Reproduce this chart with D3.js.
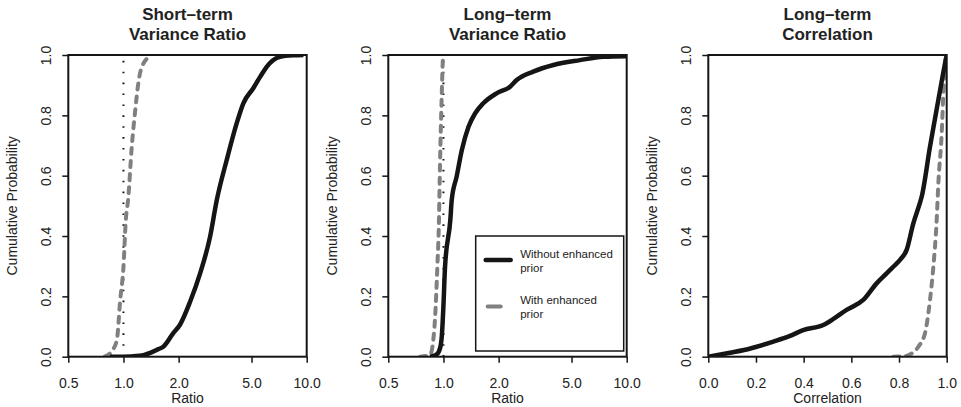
<!DOCTYPE html>
<html>
<head>
<meta charset="utf-8">
<script src="https://cdn.jsdelivr.net/npm/d3@7"></script>
<style>
  body { margin: 0; background: #fff; }
  svg text { font-family: "Liberation Sans", Arial, sans-serif; fill: #222; }
</style>
</head>
<body>
<script>
// ---- data ----
var panelTitles = [["Short\u2013term", "Variance Ratio"], ["Long\u2013term", "Variance Ratio"], ["Long\u2013term", "Correlation"]];
var xTitles = ["Ratio", "Ratio", "Correlation"];
var ratioTicks = [0.5, 1.0, 2.0, 5.0, 10.0];
var corrTicks = [0.0, 0.2, 0.4, 0.6, 0.8, 1.0];
var probTicks = [0.0, 0.2, 0.4, 0.6, 0.8, 1.0];
var legendLabels = [["Without enhanced", "prior"], ["With enhanced", "prior"]];

var shortWithoutX = [0.845, 1.1, 1.23, 1.40, 1.55, 1.65, 1.87, 2.03, 2.31, 2.62, 2.97, 3.23, 3.66, 4.15, 4.51, 5.11, 5.6, 6.05, 7.15, 8.45, 9.6];
var shortWithoutP = [0, 0.001, 0.003, 0.013, 0.025, 0.033, 0.078, 0.105, 0.182, 0.276, 0.398, 0.519, 0.652, 0.774, 0.84, 0.89, 0.93, 0.961, 0.994, 0.999, 1.0];
var shortWithX = [0.79, 0.86, 0.92, 0.96, 1.0, 1.03, 1.06, 1.11, 1.16, 1.205, 1.26, 1.43];
var shortWithP = [0, 0.017, 0.055, 0.188, 0.298, 0.453, 0.52, 0.696, 0.818, 0.906, 0.961, 1.0];

var longWithoutX = [0.845, 0.92, 0.96, 0.98, 1.0, 1.02, 1.09, 1.11, 1.18, 1.26, 1.37, 1.49, 1.65, 1.95, 2.31, 2.51, 3.09, 3.98, 5.56, 7.45, 10];
var longWithoutP = [0, 0.008, 0.03, 0.07, 0.17, 0.298, 0.453, 0.52, 0.597, 0.685, 0.762, 0.807, 0.84, 0.873, 0.895, 0.917, 0.945, 0.967, 0.983, 0.994, 0.996];
var longWithX = [0.745, 0.845, 0.88, 0.90, 0.926, 0.945, 0.957, 0.977, 0.995, 1.0];
var longWithP = [0, 0.006, 0.055, 0.13, 0.298, 0.453, 0.63, 0.851, 0.994, 1.0];

var corrWithoutX = [0, 0.091, 0.15, 0.203, 0.273, 0.34, 0.398, 0.482, 0.53, 0.58, 0.65, 0.706, 0.748, 0.776, 0.805, 0.832, 0.86, 0.887, 0.895, 0.93, 0.965, 0.993, 1.0];
var corrWithoutP = [0, 0.013, 0.022, 0.033, 0.05, 0.068, 0.088, 0.105, 0.128, 0.155, 0.188, 0.243, 0.276, 0.298, 0.322, 0.354, 0.442, 0.508, 0.53, 0.696, 0.851, 0.972, 1.0];
var corrWithX = [0.776, 0.818, 0.84, 0.881, 0.909, 0.93, 0.944, 0.958, 0.965, 0.979, 0.986, 0.993, 0.998];
var corrWithP = [0, 0.001, 0.005, 0.033, 0.078, 0.188, 0.298, 0.453, 0.575, 0.74, 0.873, 0.972, 1.0];

var referenceLine = [1.0, 1.0, null]; // dotted vertical at ratio = 1

var width = 961, height = 407;
var plot = { left: 68.3, top: 55, w: 238.4, h: 301.7, step: 320 };
var black = "#151515", grey = "#808080";

var svg = d3.select("body").append("svg")
  .attr("width", width)
  .attr("height", height);

var panels = [
  { log: true, ticks: ratioTicks, without: [shortWithoutX, shortWithoutP], withp: [shortWithX, shortWithP] },
  { log: true, ticks: ratioTicks, without: [longWithoutX, longWithoutP], withp: [longWithX, longWithP], legend: true },
  { log: false, ticks: corrTicks, without: [corrWithoutX, corrWithoutP], withp: [corrWithX, corrWithP] }
];

var yScale = d3.scaleLinear().domain([0, 1]).range([plot.h, 0]);

var zip = function(xs, ps) {
  return xs.map(function(x, i) { return [x, ps[i]]; });
};

panels.forEach(function(p, i) {
  var g = svg.append("g")
    .attr("transform", "translate(" + (plot.left + plot.step * i) + "," + plot.top + ")");

  var xScale = p.log
    ? d3.scaleLog().domain([0.5, 10]).range([0, plot.w])
    : d3.scaleLinear().domain([0, 1]).range([0, plot.w]);

  g.append("clipPath").attr("id", "clip" + i)
    .append("rect").attr("width", plot.w).attr("height", plot.h);

  var line = d3.line()
    .curve(d3.curveMonotoneX)
    .x(function(d) { return xScale(d[0]); })
    .y(function(d) { return yScale(d[1]); });

  var inner = g.append("g").attr("clip-path", "url(#clip" + i + ")");

  // dotted reference line at 1
  if (referenceLine[i] !== null) {
    inner.append("line")
      .attr("x1", xScale(referenceLine[i])).attr("x2", xScale(referenceLine[i]))
      .attr("y1", yScale(0)).attr("y2", yScale(1))
      .attr("stroke", black)
      .attr("stroke-width", 2)
      .attr("stroke-dasharray", "1.6,9.3");
  }

  inner.append("path")
    .datum(zip(p.withp[0], p.withp[1]))
    .attr("d", line)
    .attr("fill", "none")
    .attr("stroke", grey)
    .attr("stroke-width", 4)
    .attr("stroke-linecap", "round")
    .attr("stroke-dasharray", "6,7");

  inner.append("path")
    .datum(zip(p.without[0], p.without[1]))
    .attr("d", line)
    .attr("fill", "none")
    .attr("stroke", black)
    .attr("stroke-width", 4.5)
    .attr("stroke-linejoin", "round");

  // box
  g.append("rect")
    .attr("width", plot.w).attr("height", plot.h)
    .attr("fill", "none")
    .attr("stroke", black)
    .attr("stroke-width", 2);

  // x axis
  var xAxis = g.append("g")
    .attr("transform", "translate(0," + plot.h + ")")
    .call(d3.axisBottom(xScale).tickValues(p.ticks).tickSize(6).tickFormat(d3.format(".1f")));
  xAxis.select(".domain").remove();
  xAxis.selectAll(".tick line").attr("stroke", black).attr("stroke-width", 1.5);
  xAxis.selectAll("text")
    .attr("y", 21).attr("dy", "0.71em")
    .style("font-size", "14px");

  // y axis
  var yAxis = g.append("g")
    .call(d3.axisLeft(yScale).tickValues(probTicks).tickSize(6).tickFormat(d3.format(".1f")));
  yAxis.select(".domain").remove();
  yAxis.selectAll(".tick line").attr("stroke", black).attr("stroke-width", 1.5);
  yAxis.selectAll("text")
    .attr("x", null).attr("dy", null)
    .attr("text-anchor", "middle")
    .attr("transform", "translate(-17.5,0) rotate(-90)")
    .style("font-size", "14px");

  // titles
  g.append("text")
    .attr("x", plot.w / 2).attr("y", -plot.top + 19.5)
    .attr("text-anchor", "middle")
    .style("font-size", "17px").style("font-weight", "bold")
    .text(panelTitles[i][0]);
  g.append("text")
    .attr("x", plot.w / 2).attr("y", -plot.top + 39.5)
    .attr("text-anchor", "middle")
    .style("font-size", "17px").style("font-weight", "bold")
    .text(panelTitles[i][1]);

  g.append("text")
    .attr("x", plot.w / 2).attr("y", plot.h + 46.5)
    .attr("text-anchor", "middle")
    .style("font-size", "14px")
    .text(xTitles[i]);

  g.append("text")
    .attr("transform", "translate(-51," + (plot.h / 2) + ") rotate(-90)")
    .attr("text-anchor", "middle")
    .style("font-size", "14px")
    .text("Cumulative Probability");

  if (p.legend) {
    var lg = g.append("g").attr("transform", "translate(87.4,181)");
    lg.append("rect")
      .attr("width", 148).attr("height", 115)
      .attr("fill", "#fff")
      .attr("stroke", black).attr("stroke-width", 1.5);
    var styles = [
      { stroke: black, w: 4.5, x2: 35 },
      { stroke: grey, w: 4, x2: 25 }
    ];
    legendLabels.forEach(function(lab, k) {
      var yy = 24 + k * 46.5;
      lg.append("line")
        .attr("x1", k === 0 ? 10 : 12).attr("x2", styles[k].x2)
        .attr("y1", yy).attr("y2", yy)
        .attr("stroke", styles[k].stroke)
        .attr("stroke-width", styles[k].w)
        .attr("stroke-linecap", "round");
      lab.forEach(function(t, j) {
        lg.append("text")
          .attr("x", 44.5).attr("y", yy - 2.5 + j * 14)
          .style("font-size", "11.5px")
          .text(t);
      });
    });
  }
});
</script>
</body>
</html>
